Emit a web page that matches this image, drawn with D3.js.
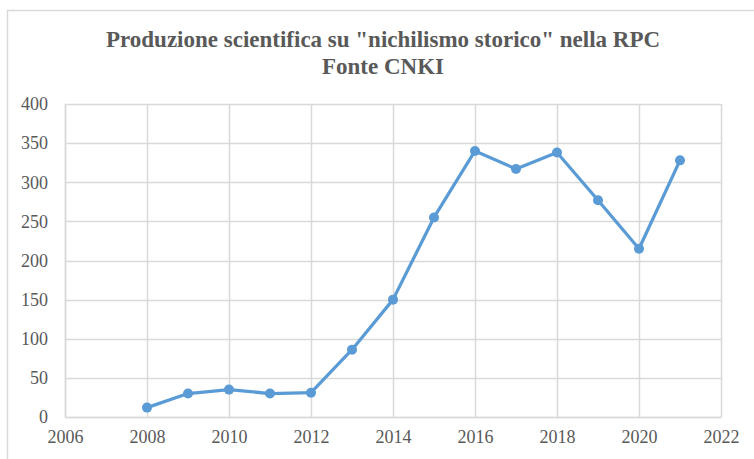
<!DOCTYPE html>
<html>
<head>
<meta charset="utf-8">
<script src="https://cdn.jsdelivr.net/npm/d3@7"></script>
<style>
  body { margin: 0; background: #fff; }
  svg { display: block; }
</style>
</head>
<body>
<svg id="chart"></svg>
<script>
const w = 754;
const h = 459;

const titleLines = ['Produzione scientifica su "nichilismo storico" nella RPC', 'Fonte CNKI'];
const years = [2008, 2009, 2010, 2011, 2012, 2013, 2014, 2015, 2016, 2017, 2018, 2019, 2020, 2021];
const counts = [12, 30, 35, 30, 31, 86, 150, 255, 340, 317, 338, 277, 215, 328];
const xTicks = [2006, 2008, 2010, 2012, 2014, 2016, 2018, 2020, 2022];
const yTicks = [0, 50, 100, 150, 200, 250, 300, 350, 400];

const margin = { top: 104, right: 33, bottom: 42, left: 65 };
const textColor = '#595959';
const gridColor = '#d9d9d9';
const lineColor = '#5b9bd5';

const svg = d3.select('#chart')
    .attr('width', w)
    .attr('height', h);

// chart frame (only top and left edges visible)
svg.append('rect')
    .attr('x', 7.5)
    .attr('y', 10.5)
    .attr('width', w + 10)
    .attr('height', h + 10)
    .attr('fill', '#fff')
    .attr('stroke', gridColor)
    .attr('stroke-width', 1.5);

const xScale = d3.scaleLinear()
    .domain([2006, 2022])
    .range([margin.left, w - margin.right]);
const yScale = d3.scaleLinear()
    .domain([0, 400])
    .range([h - margin.bottom, margin.top]);

// grid
svg.append('g')
    .selectAll('line')
    .data(yTicks)
    .join('line')
    .attr('x1', margin.left)
    .attr('x2', w - margin.right)
    .attr('y1', d => Math.round(yScale(d)) + 0.5)
    .attr('y2', d => Math.round(yScale(d)) + 0.5)
    .attr('stroke', gridColor)
    .attr('stroke-width', 1.5);

svg.append('g')
    .selectAll('line')
    .data(xTicks)
    .join('line')
    .attr('y1', margin.top)
    .attr('y2', h - margin.bottom)
    .attr('x1', d => Math.round(xScale(d)) + 0.5)
    .attr('x2', d => Math.round(xScale(d)) + 0.5)
    .attr('stroke', gridColor)
    .attr('stroke-width', 1.5);

// axes
const xAxis = d3.axisBottom(xScale)
    .tickValues(xTicks)
    .tickFormat(d3.format('d'))
    .tickSize(0)
    .tickPadding(13);
const gx = svg.append('g')
    .attr('transform', `translate(0,${h - margin.bottom})`)
    .call(xAxis);

const yAxis = d3.axisLeft(yScale)
    .tickValues(yTicks)
    .tickSize(0)
    .tickPadding(17);
const gy = svg.append('g')
    .attr('transform', `translate(${margin.left},0)`)
    .call(yAxis);

[gx, gy].forEach(g => {
    g.select('.domain').attr('stroke', gridColor).attr('stroke-width', 1.5);
    g.selectAll('text')
        .attr('fill', textColor)
        .style('font-family', '"Liberation Serif", "Times New Roman", serif')
        .style('font-size', '18px');
});

// line + markers
const line = d3.line()
    .x((d, i) => xScale(years[i]))
    .y(d => yScale(d));

svg.append('path')
    .datum(counts)
    .attr('d', line)
    .attr('fill', 'none')
    .attr('stroke', lineColor)
    .attr('stroke-width', 3.25)
    .attr('stroke-linejoin', 'round');

svg.append('g')
    .selectAll('circle')
    .data(counts)
    .join('circle')
    .attr('cx', (d, i) => xScale(years[i]))
    .attr('cy', d => yScale(d))
    .attr('r', 5)
    .attr('fill', lineColor);

// title
svg.append('g')
    .selectAll('text')
    .data(titleLines)
    .join('text')
    .attr('x', 383)
    .attr('y', (d, i) => 47 + i * 27)
    .attr('text-anchor', 'middle')
    .attr('fill', textColor)
    .style('font-family', '"Liberation Serif", "Times New Roman", serif')
    .style('font-weight', 'bold')
    .style('font-size', '23px')
    .text(d => d);
</script>
</body>
</html>
